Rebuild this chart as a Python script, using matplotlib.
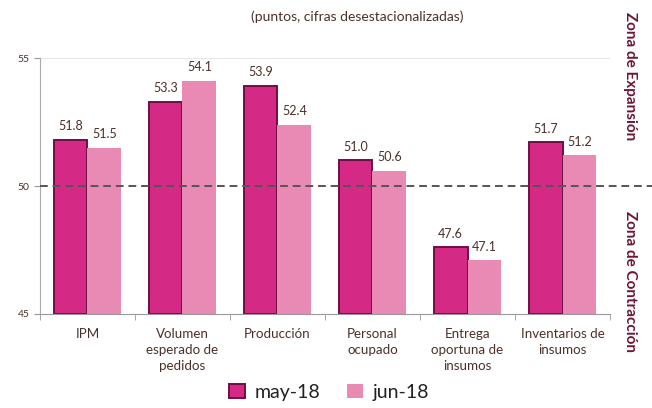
import numpy as np
import matplotlib.pyplot as plt

# datos (puntos, cifras desestacionalizadas)
categorias = ["IPM", "Volumen\nesperado de\npedidos", "Producción", "Personal\nocupado",
              "Entrega\noportuna de\ninsumos", "Inventarios de\ninsumos"]
may18 = [51.8, 53.3, 53.9, 51.0, 47.6, 51.7]
jun18 = [51.5, 54.1, 52.4, 50.6, 47.1, 51.2]

plt.rcParams['font.family'] = ['Lato', 'DejaVu Sans']
txt = "#4a3028"

fig = plt.figure(figsize=(6.52, 4.08), dpi=100)
ax = fig.add_axes([0.0613, 0.2304, 0.8743, 0.6274])

x = np.arange(len(categorias))
w = 0.355
ax.bar(x - w / 2, np.array(may18) - 45, w, bottom=45, color="#D42A86",
       edgecolor="#6E0F45", linewidth=1.4, label="may-18", zorder=2)
ax.bar(x + w / 2, np.array(jun18) - 45, w, bottom=45, color="#E98AB4",
       edgecolor="none", label="jun-18", zorder=2)

for xi, v in zip(x, may18):
    ax.text(xi - w / 2, v + 0.3, f"{v:.1f}", ha="center", va="bottom", fontsize=9, color=txt)
for xi, v in zip(x, jun18):
    ax.text(xi + w / 2, v + 0.3, f"{v:.1f}", ha="center", va="bottom", fontsize=9, color=txt)

ax.axhline(50, xmin=0, xmax=1.075, color="#555555", linestyle=(0, (4, 2.5)),
           linewidth=1.4, clip_on=False, zorder=3)
ax.axhline(55, color="#e6e6e6", linewidth=0.8, zorder=0)

ax.set_xlim(-0.5, 5.5)
ax.set_ylim(45, 55)
ax.set_yticks([45, 50, 55])
ax.set_xticks(x)
ax.set_xticklabels(categorias, fontsize=9.6, color=txt, linespacing=1.4)
ax.set_xticks(np.arange(-0.5, 6, 1), minor=True)
ax.tick_params(axis="x", which="major", length=0, pad=10)
ax.tick_params(axis="x", which="minor", length=4, color="#999999")
ax.tick_params(axis="y", length=4, color="#999999", labelsize=7.5, labelcolor=txt)

for s in ["top", "right"]:
    ax.spines[s].set_visible(False)
ax.spines["left"].set_color("#aaaaaa")
ax.spines["bottom"].set_color("#999999")

fig.text(0.548, 0.958, "(puntos, cifras desestacionalizadas)", ha="center", va="center",
         fontsize=10, color=txt)
fig.text(0.966, 0.814, "Zona de Expansión", rotation=-90, ha="center", va="center",
         fontsize=11, fontweight="bold", color="#6E1538")
fig.text(0.966, 0.311, "Zona de Contracción", rotation=-90, ha="center", va="center",
         fontsize=11, fontweight="bold", color="#6E1538")

fig.legend(loc="lower center", bbox_to_anchor=(0.505, -0.025), ncol=2, frameon=False,
           fontsize=14, handlelength=0.8, handleheight=0.8, columnspacing=1.4,
           handletextpad=0.5, labelcolor="#222222")

fig.savefig("out.png", dpi=100)
